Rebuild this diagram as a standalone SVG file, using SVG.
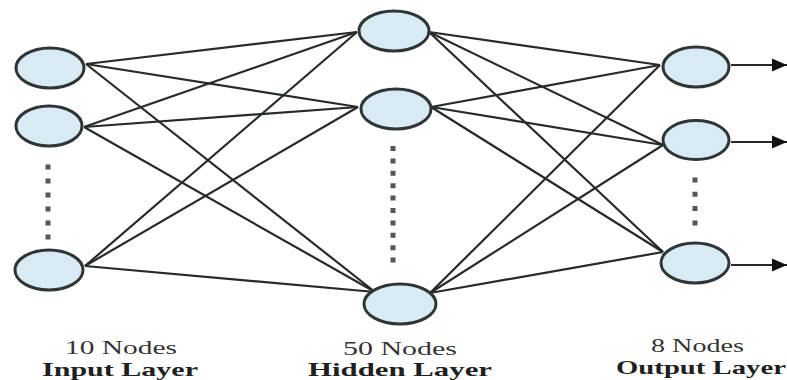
<svg xmlns="http://www.w3.org/2000/svg" width="787" height="380" viewBox="0 0 787 380">
  <style>
    .node { fill: #d8ebf4; stroke: #2f3535; stroke-width: 3; }
    .edge { stroke: #262a2a; stroke-width: 2.2; fill: none; }
    .dots { stroke: #555; stroke-width: 5; fill: none; }
    .cnt { font-family: "Liberation Serif", "Times New Roman", serif; font-size: 19px; fill: #333; }
    .lay { font-family: "Liberation Serif", "Times New Roman", serif; font-size: 19px; font-weight: bold; fill: #1f1f1f; }
  </style>
  <defs>
    <marker id="arrow" markerWidth="16" markerHeight="14" refX="15" refY="7" orient="auto" markerUnits="userSpaceOnUse">
      <path d="M0,0.5 L15,7 L0,13.5 Z" fill="#111"/>
    </marker>
  </defs>
  <rect width="787" height="380" fill="#ffffff"/>

  <g id="connectors">
    <!-- input to hidden -->
    <line class="edge" x1="86" y1="64" x2="357" y2="32"/>
    <line class="edge" x1="86" y1="64" x2="358" y2="107"/>
    <line class="edge" x1="86" y1="64" x2="375" y2="292"/>
    <line class="edge" x1="84" y1="127" x2="357" y2="32"/>
    <line class="edge" x1="84" y1="127" x2="358" y2="107"/>
    <line class="edge" x1="84" y1="127" x2="375" y2="292"/>
    <line class="edge" x1="85" y1="266" x2="357" y2="32"/>
    <line class="edge" x1="85" y1="266" x2="358" y2="107"/>
    <line class="edge" x1="85" y1="266" x2="375" y2="292"/>
    <!-- hidden to output -->
    <line class="edge" x1="429" y1="32" x2="660" y2="65"/>
    <line class="edge" x1="429" y1="32" x2="663" y2="145"/>
    <line class="edge" x1="429" y1="32" x2="663" y2="252"/>
    <line class="edge" x1="431" y1="107" x2="660" y2="65"/>
    <line class="edge" x1="431" y1="107" x2="663" y2="145"/>
    <line class="edge" x1="431" y1="107" x2="663" y2="252"/>
    <line class="edge" x1="430" y1="293" x2="660" y2="65"/>
    <line class="edge" x1="430" y1="293" x2="663" y2="145"/>
    <line class="edge" x1="430" y1="293" x2="663" y2="252"/>
    <!-- outputs -->
    <line class="edge" x1="731" y1="65" x2="787" y2="65" marker-end="url(#arrow)"/>
    <line class="edge" x1="731" y1="142" x2="787" y2="142" marker-end="url(#arrow)"/>
    <line class="edge" x1="731" y1="265" x2="787" y2="265" marker-end="url(#arrow)"/>
  </g>

  <g id="input-1"><ellipse class="node" cx="50" cy="68" rx="34" ry="20"/></g>
  <g id="input-2"><ellipse class="node" cx="49" cy="126" rx="33" ry="20"/></g>
  <g id="input-dots"><line class="dots" x1="48" y1="164.5" x2="48" y2="239.5" stroke-dasharray="5 9"/></g>
  <g id="input-3"><ellipse class="node" cx="49" cy="270" rx="34" ry="20"/></g>

  <g id="hidden-1"><ellipse class="node" cx="394" cy="31" rx="35" ry="20"/></g>
  <g id="hidden-2"><ellipse class="node" cx="396" cy="109" rx="35" ry="20"/></g>
  <g id="hidden-dots"><line class="dots" x1="393" y1="146" x2="393" y2="263" stroke-dasharray="5 7.4"/></g>
  <g id="hidden-3"><ellipse class="node" cx="400" cy="304" rx="36" ry="20"/></g>

  <g id="output-1"><ellipse class="node" cx="696" cy="67" rx="33" ry="20"/></g>
  <g id="output-2"><ellipse class="node" cx="696" cy="140" rx="33" ry="19.5"/></g>
  <g id="output-dots"><line class="dots" x1="695" y1="177.5" x2="695" y2="225.5" stroke-dasharray="5 9.3"/></g>
  <g id="output-3"><ellipse class="node" cx="695" cy="263" rx="34" ry="20"/></g>

  <g id="labels">
    <text class="cnt" x="65" y="354" textLength="112" lengthAdjust="spacingAndGlyphs">10 Nodes</text>
    <text class="lay" x="42" y="375.5" textLength="156" lengthAdjust="spacingAndGlyphs">Input Layer</text>
    <text class="cnt" x="343" y="355" textLength="114" lengthAdjust="spacingAndGlyphs">50 Nodes</text>
    <text class="lay" x="308" y="376" textLength="184" lengthAdjust="spacingAndGlyphs">Hidden Layer</text>
    <text class="cnt" x="651" y="352" textLength="93" lengthAdjust="spacingAndGlyphs">8 Nodes</text>
    <text class="lay" x="616" y="374" textLength="170" lengthAdjust="spacingAndGlyphs">Output Layer</text>
  </g>
</svg>
